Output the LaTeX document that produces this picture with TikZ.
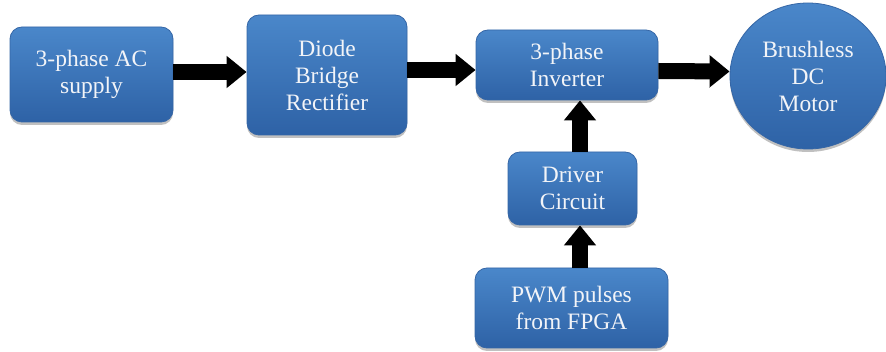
\documentclass[tikz,border=0pt]{standalone}
\usepackage{fontspec}
\setmainfont{Liberation Serif}
\usetikzlibrary{arrows.meta,shadows,shapes.geometric}
\definecolor{boxtop}{HTML}{4A87CA}
\definecolor{boxbot}{HTML}{2E62A6}
\definecolor{boxedge}{HTML}{3566A6}
\definecolor{txt}{HTML}{F2F4F8}
\begin{document}
\begin{tikzpicture}[x=1pt,y=1pt,
  blockbase/.style={draw=boxedge, line width=0.8pt, top color=boxtop, bottom color=boxbot,
    text=txt, align=center, inner sep=2pt,
    font=\fontsize{23.5}{27}\selectfont,
    drop shadow={shadow xshift=0pt, shadow yshift=-3pt, opacity=0.35, fill=black!70}},
  block/.style={blockbase, rectangle, rounded corners=12pt},
  roundblock/.style={blockbase, ellipse, inner sep=0pt},
  flow/.style={line width=16pt, -{Triangle[length=20pt,width=31pt]}}]
  \useasboundingbox[fill=white] (0,0) rectangle (886,-352);

  % main power path
  \node[block, minimum width=163pt, minimum height=95pt] (ac) at (91.5,-74.5) {3-phase AC\\supply};
  \node[block, minimum width=160pt, minimum height=120pt] (rect) at (327,-75) {Diode\\Bridge\\Rectifier};
  \node[block, minimum width=182pt, minimum height=70pt] (inv) at (567,-65) {3-phase\\Inverter};
  \node[roundblock, minimum width=156pt, minimum height=146pt] (motor) at (808,-76) {Brushless\\DC\\Motor};

  % control path
  \node[block, minimum width=129pt, minimum height=73pt] (drv) at (572.5,-188.5) {Driver\\Circuit};
  \node[block, minimum width=193pt, minimum height=80pt] (pwm) at (571.5,-308) {PWM pulses\\from FPGA};

  % connectors
  \draw[flow] ([yshift=2.5pt]ac.east) -- ([yshift=3pt]rect.west);
  \draw[flow] ([yshift=5pt]rect.east) -- ([yshift=-5pt]inv.west);
  \draw[flow] ([yshift=-6pt]inv.east) -- ([yshift=4.5pt]motor.west);
  \draw[flow] ([xshift=7.5pt]drv.north) -- ([xshift=13pt]inv.south);
  \draw[flow] ([xshift=8.5pt]pwm.north) -- ([xshift=7.5pt]drv.south);
\end{tikzpicture}
\end{document}
